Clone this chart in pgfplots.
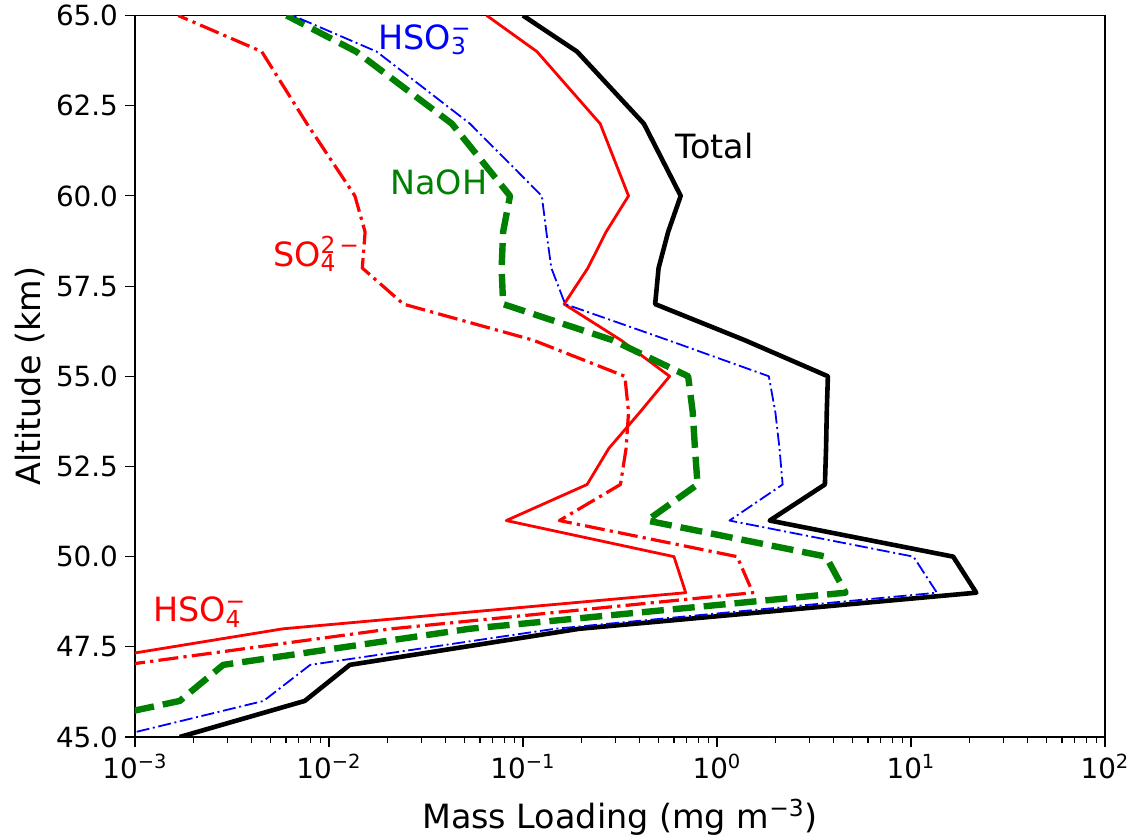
\documentclass[border=0pt]{standalone}
\usepackage{fontspec}
\setmainfont{DejaVu Sans}
\usepackage{pgfplots}
\pgfplotsset{compat=1.18}

\pgfplotstableread{
alt total
45 0.0017
46 0.0075
47 0.0128
48 0.195
49 21.7
50 16.5
51 1.87
52 3.6
53 3.65
54 3.68
55 3.73
56 1.39
57 0.48
58 0.50
59 0.56
60 0.65
62 0.42
64 0.19
65 0.10
}\totaltab

\pgfplotstableread{
alt hso4
47 0.00042
48 0.0058
49 0.69
50 0.60
51 0.082
52 0.214
53 0.277
54 0.40
55 0.57
56 0.32
57 0.163
58 0.216
59 0.268
60 0.35
62 0.25
64 0.118
65 0.065
}\hsofourtab

\pgfplotstableread{
alt so4
47 0.00089
48 0.021
49 1.53
50 1.27
51 0.154
52 0.318
53 0.34
54 0.35
55 0.335
56 0.113
57 0.0242
58 0.01485
59 0.01535
60 0.0136
62 0.0077
64 0.0045
65 0.00167
}\sofourtab

\pgfplotstableread{
alt naoh
45 0.00023
46 0.0017
47 0.00285
48 0.053
49 4.6
50 3.65
51 0.436
52 0.794
53 0.77
54 0.75
55 0.71
56 0.29
57 0.079
58 0.0776
59 0.079
60 0.0857
62 0.043
64 0.0138
65 0.00605
}\naohtab

\pgfplotstableread{
alt hso3
45 0.00079
46 0.0046
47 0.0080
48 0.146
49 13.6
50 10.3
51 1.16
52 2.18
53 2.1
54 2.0
55 1.85
56 0.56
57 0.165
58 0.14
59 0.132
60 0.125
62 0.0533
64 0.0176
65 0.0065
}\hsothreetab

\begin{document}
\begin{tikzpicture}
\begin{axis}[
  at={(0,0)}, anchor=south west,
  scale only axis, width=485pt, height=360.75pt,
  xmode=log, log basis x=10,
  xmin=1e-3, xmax=1e2, ymin=45, ymax=65,
  xtick={1e-3,1e-2,1e-1,1,10,100},
  xticklabels={10\textsuperscript{−3},10\textsuperscript{−2},10\textsuperscript{−1},10\textsuperscript{0},10\textsuperscript{1},10\textsuperscript{2}},
  minor xtick={2e-3,3e-3,4e-3,5e-3,6e-3,7e-3,8e-3,9e-3,
               2e-2,3e-2,4e-2,5e-2,6e-2,7e-2,8e-2,9e-2,
               2e-1,3e-1,4e-1,5e-1,6e-1,7e-1,8e-1,9e-1,
               2,3,4,5,6,7,8,9,20,30,40,50,60,70,80,90},
  ytick={45,47.5,50,52.5,55,57.5,60,62.5,65},
  yticklabel style={/pgf/number format/.cd, fixed, fixed zerofill, precision=1, assume math mode=true},
  tick pos=left, tick align=outside,
  major tick length=5pt, minor tick length=2.8pt,
  every tick/.style={black, line width=0.55pt},
  axis line style={line width=0.6pt},
  ticklabel style={font=\fontsize{13.9}{16}\selectfont},
  label style={font=\fontsize{16.7}{20}\selectfont},
  xlabel={Mass Loading (mg m\textsuperscript{−3})},
  xlabel style={yshift=-3pt},
  ylabel={Altitude (km)},
  ylabel style={yshift=-1.5pt},
  clip=true,
]
\addplot[black, line width=2.3pt, line join=round] table[x=total, y=alt] {\totaltab};
\addplot[red, line width=1.4pt, line join=round] table[x=hso4, y=alt] {\hsofourtab};
\addplot[red, line width=1.6pt, line join=round, dash pattern=on 10pt off 2.6pt on 1.6pt off 2.6pt] table[x=so4, y=alt] {\sofourtab};
\addplot[color={rgb,255:red,0;green,128;blue,0}, line width=3.2pt, line join=round, dash pattern=on 11pt off 4.5pt] table[x=naoh, y=alt] {\naohtab};
\addplot[blue, line width=0.9pt, line join=round, dash pattern=on 6.5pt off 1.8pt on 1pt off 1.8pt] table[x=hso3, y=alt] {\hsothreetab};

\node[anchor=base west, inner sep=0pt, font=\fontsize{16.7}{20}\selectfont, text=black] at (axis cs:0.6075,61.05) {Total};
\node[anchor=base west, inner sep=0pt, font=\fontsize{16.7}{20}\selectfont, text={rgb,255:red,0;green,128;blue,0}] at (axis cs:0.02063,60.05) {NaOH};
\node[anchor=base west, inner sep=0pt, font=\fontsize{16.7}{20}\selectfont, text=blue] at (axis cs:0.01789,64.07) {HSO\rlap{\textsuperscript{−}}\textsubscript{3}};
\node[anchor=base west, inner sep=0pt, font=\fontsize{16.7}{20}\selectfont, text=red] at (axis cs:0.005126,58.05) {SO\rlap{\textsubscript{4}}\textsuperscript{2\,−}};
\node[anchor=base west, inner sep=0pt, font=\fontsize{16.7}{20}\selectfont, text=red] at (axis cs:0.001234,48.19) {HSO\rlap{\textsuperscript{−}}\textsubscript{4}};
\end{axis}
\pgfresetboundingbox
\path[use as bounding box] (-67.5pt,-50pt) rectangle (499.5pt,368.5pt);
\end{tikzpicture}
\end{document}
